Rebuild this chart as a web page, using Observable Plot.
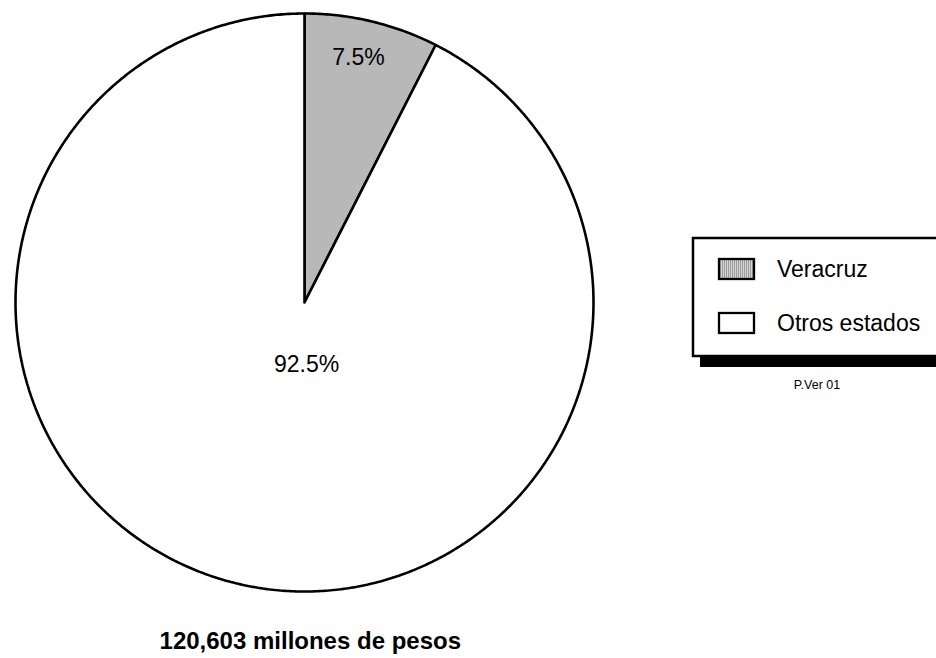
<!DOCTYPE html>
<html><head><meta charset="utf-8">
<script src="https://cdn.jsdelivr.net/npm/d3@7"></script>
<script src="https://cdn.jsdelivr.net/npm/@observablehq/plot@0.6"></script>
<style>
body{margin:0;background:#fff;font-family:"Liberation Sans",Arial,Helvetica,sans-serif}
#wrap{position:relative;width:936px;height:658px;overflow:hidden}
</style>
</head><body><div id="wrap"></div>
<script>
const categories = ["Veracruz", "Otros estados"];
const shares = [7.5, 92.5];
const sliceLabels = ["7.5%", "92.5%"];
const captionText = "120,603 millones de pesos";
const sourceNote = "P.Ver 01";

const fills = ["url(#hatch)", "#ffffff"];
const arcs = d3.pie().sort(null)(shares);

// slice outlines in unit-circle coordinates (angle 0 = 12 o'clock, clockwise)
const slicePts = [];
arcs.forEach((a, i) => {
  const cat = categories[i];
  slicePts.push({cat, x: 0, y: 0});
  const n = Math.max(2, Math.ceil((a.endAngle - a.startAngle) / (Math.PI / 360)));
  for (let k = 0; k <= n; k++) {
    const t = a.startAngle + (a.endAngle - a.startAngle) * k / n;
    slicePts.push({cat, x: Math.sin(t), y: Math.cos(t)});
  }
  slicePts.push({cat, x: 0, y: 0});
});

const labelPts = arcs.map((a, i) => {
  if (i === 0) {
    const m = (a.startAngle + a.endAngle) / 2 - 0.019;
    return {label: sliceLabels[i], x: 0.868 * Math.sin(m), y: 0.868 * Math.cos(m)};
  }
  return {label: sliceLabels[i], x: 0.007, y: -0.215};
});

const cx = 304, cy = 302, R = 289;
const plot = Plot.plot({
  width: 936, height: 658,
  marginTop: 0, marginRight: 0, marginBottom: 0, marginLeft: 0,
  x: {domain: [-1, 1], range: [cx - R, cx + R], axis: null},
  y: {domain: [-1, 1], range: [cy + R, cy - R], axis: null},
  style: {background: "#fff", fontFamily: "'Liberation Sans', Arial, Helvetica, sans-serif"},
  marks: [
    Plot.line(slicePts, {
      x: "x", y: "y", z: "cat",
      fill: d => fills[categories.indexOf(d.cat)],
      stroke: "#000", strokeWidth: 2.6, strokeLinejoin: "miter"
    }),
    Plot.text(labelPts, {x: "x", y: "y", text: "label", fontSize: 23, fill: "#000"}),
    Plot.text([captionText], {x: () => 0.02, y: () => -1.173, text: d => d, fontSize: 24, fontWeight: "bold", fill: "#000"})
  ]
});

// hatch pattern for Veracruz
const svg = d3.select(plot);
const defs = svg.insert("defs", ":first-child");
const pat = defs.append("pattern").attr("id", "hatch").attr("patternUnits", "userSpaceOnUse")
  .attr("width", 2).attr("height", 2);
pat.append("rect").attr("width", 2).attr("height", 2).attr("fill", "#d4d4d4");
pat.append("rect").attr("width", 1).attr("height", 2).attr("fill", "#9c9c9c");

// legend
const lg = svg.append("g").attr("font-family", "'Liberation Sans', Arial, Helvetica, sans-serif")
  .attr("text-anchor", "start");
lg.append("rect").attr("x", 700).attr("y", 357).attr("width", 260).attr("height", 10).attr("fill", "#000");
lg.append("rect").attr("x", 693).attr("y", 238).attr("width", 260).attr("height", 118)
  .attr("fill", "#fff").attr("stroke", "#000").attr("stroke-width", 2.5);
categories.forEach((c, i) => {
  const y0 = 259 + i * 54;
  lg.append("rect").attr("x", 719).attr("y", y0).attr("width", 35).attr("height", 20)
    .attr("fill", fills[i]).attr("stroke", "#000").attr("stroke-width", 2.3);
  lg.append("text").attr("x", 777).attr("y", y0 + 18).attr("text-anchor", "start")
    .attr("font-size", 23).attr("fill", "#000").text(c);
});
lg.append("text").attr("x", 817).attr("y", 389).attr("text-anchor", "middle")
  .attr("font-size", 12.5).attr("fill", "#000").text(sourceNote);

document.getElementById("wrap").appendChild(plot);
</script>
</body></html>
